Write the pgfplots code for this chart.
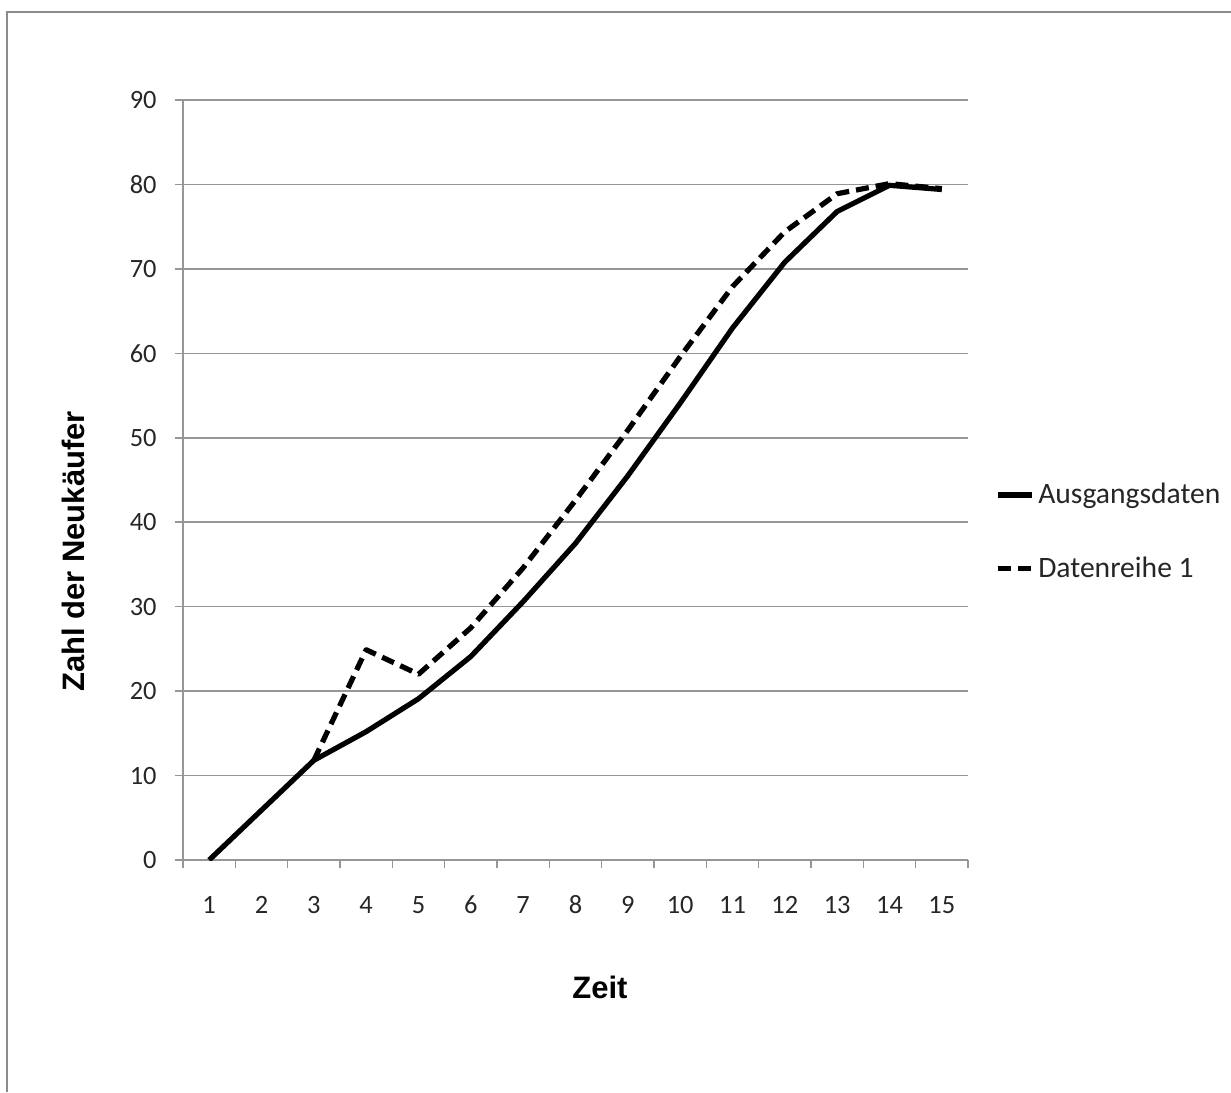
\documentclass[border=0pt]{standalone}
\usepackage{fontspec}
\setmainfont{Carlito}
\newfontfamily\arialfont{Liberation Sans}
\usepackage{pgfplots}
\pgfplotsset{compat=1.18}
\definecolor{gridgray}{RGB}{150,150,150}
\definecolor{framegray}{RGB}{140,140,140}
\begin{document}
\begin{tikzpicture}
\begin{axis}[
  at={(0pt,0pt)}, anchor=south west,
  scale only axis, width=392.5pt, height=380pt,
  xmin=0.5, xmax=15.5, ymin=0, ymax=90,
  xtick={1,...,15}, ytick={0,10,...,90},
  minor xtick={0.5,1.5,...,15.5},
  major x tick style={draw=none},
  tick align=outside, major tick length=4pt, minor tick length=4pt,
  axis lines*=left,
  axis line style={draw=gridgray, line width=0.75pt, -},
  tick style={draw=gridgray, line width=0.75pt},
  ymajorgrids, grid style={draw=gridgray, line width=0.75pt},
  /pgf/number format/assume math mode=true,
  ticklabel style={font=\fontsize{13.2}{15}\selectfont, text=black!85},
  yticklabel style={anchor=east, inner sep=0pt, xshift=-9pt},
  xticklabel style={anchor=north, inner sep=0pt, text height=8.4pt, text depth=0pt, yshift=-14pt},
  legend style={draw=none, fill=none, at={(1.034,0.432)}, anchor=west, inner sep=0pt,
    row sep=21pt, font=\fontsize{14.8}{16}\selectfont, text=black!85},
  legend cell align=left,
  legend image code/.code={\draw[#1] (0pt,0pt) -- (17pt,0pt);},
]
\addplot[black, line width=2.6pt, line join=round] coordinates {
(1,0) (2,5.9) (3,11.8) (4,15.2) (5,19.1) (6,24.1) (7,30.6) (8,37.5) (9,45.5) (10,54.1) (11,63) (12,70.8) (13,76.8) (14,79.9) (15,79.4)};
\addlegendentry{Ausgangsdaten}
\addplot[black, line width=2.6pt, dash pattern=on 6.5pt off 3.5pt, line join=round] coordinates {
(3,11.8) (4,24.9) (5,22.0) (6,27.5) (7,34.6) (8,42.6) (9,50.9) (10,59.6) (11,67.9) (12,74.4) (13,78.9) (14,80.1) (15,79.5)};
\addlegendentry{Datenreihe 1}
\end{axis}
\node[rotate=90, font=\arialfont\bfseries\fontsize{15.5}{18}\selectfont] at (-55pt,154.25pt) {Zahl der Neukäufer};
\node[font=\arialfont\bfseries\fontsize{15.5}{18}\selectfont] at (208.5pt,-63.5pt) {Zeit};
\draw[framegray, line width=1.25pt] (-88pt,-116pt) -- (-88pt,424pt) -- (524pt,424pt);
\pgfresetboundingbox
\useasboundingbox (-91.5pt,-116pt) rectangle (524pt,430pt);
\end{tikzpicture}
\end{document}
